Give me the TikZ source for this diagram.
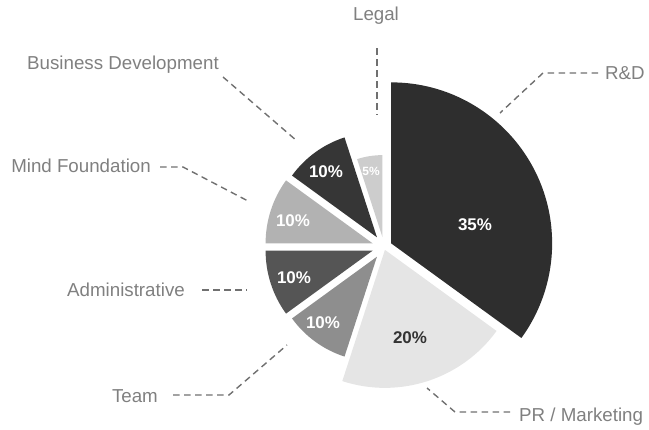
\documentclass[tikz,border=0pt]{standalone}
\usepackage{fontspec}
\setmainfont{Liberation Sans}
\definecolor{rdgray}{HTML}{2E2E2E}
\definecolor{prgray}{HTML}{E5E5E5}
\definecolor{tmgray}{HTML}{8E8E8E}
\definecolor{adgray}{HTML}{555555}
\definecolor{mfgray}{HTML}{B2B2B2}
\definecolor{bdgray}{HTML}{363636}
\definecolor{lggray}{HTML}{CDCDCD}
\definecolor{labelgray}{HTML}{808080}
\definecolor{leadgray}{HTML}{707070}
\definecolor{pctdark}{HTML}{333333}

\begin{document}
\begin{tikzpicture}[x=1bp,y=1bp,
  lbl/.style={text=labelgray,font=\fontsize{18.8}{21}\selectfont,inner sep=0pt},
  pct/.style={text=white,font=\bfseries\fontsize{17}{19}\selectfont,inner sep=0pt},
  leader/.style={draw=leadgray,line width=1.4bp,dash pattern=on 6.5bp off 4.5bp}]
\useasboundingbox (0,0) rectangle (649,429);
\coordinate (c) at (384,182);
\foreach \s/\e/\d/\r/\col in {90/-36/8/161/rdgray,-36/-108/3/138/prgray,-108/-144/12/105/tmgray,
  -144/-180/12/107/adgray,180/144/12/107/mfgray,144/108/12/105/bdgray,108/90/10/82/lggray}
  \fill[\col] (c) ++({(\s+\e)/2}:\d) -- ++(\s:\r) arc (\s:\e:\r) -- cycle;

\node[pct] (rdp) at (475,204) {35\%};
\node[pct,text=pctdark] (prp) at (410,91) {20\%};
\node[pct] (tmp) at (323,106) {10\%};
\node[pct] (adp) at (294,151) {10\%};
\node[pct] (mfp) at (293,208) {10\%};
\node[pct] (bdp) at (326,257) {10\%};
\node[pct,font=\bfseries\fontsize{12}{14}\selectfont] (lgp) at (371,258) {5\%};

\node[lbl,anchor=base] (legal) at (376,408) {Legal};
\node[lbl,anchor=base west] (bizdev) at (27,360) {Business Development};
\node[lbl,anchor=base east] (mind) at (151,257) {Mind Foundation};
\node[lbl,anchor=base east] (admin) at (185,133) {Administrative};
\node[lbl,anchor=base east] (team) at (158,27) {Team};
\node[lbl,anchor=base west] (prm) at (519,8) {PR / Marketing};
\node[lbl,anchor=base west] (rnd) at (605,350) {R\&D};

\coordinate (lg1) at (377,381);
\coordinate (lg2) at (377,314);
\coordinate (bd1) at (223,352);
\coordinate (bd2) at (297,288);
\coordinate (mf1) at (160,262);
\coordinate (mf2) at (183,262);
\coordinate (mf3) at (248,228);
\coordinate (ad1) at (202,139);
\coordinate (ad2) at (247,139);
\coordinate (tm1) at (173,34);
\coordinate (tm2) at (229,34);
\coordinate (tm3) at (287,84);
\coordinate (pr1) at (510,17);
\coordinate (pr2) at (455,17);
\coordinate (pr3) at (427,41);
\coordinate (rd1) at (598,356);
\coordinate (rd2) at (543,356);
\coordinate (rd3) at (500,316);
\draw[leader] (lg1) -- (lg2);
\draw[leader] (bd1) -- (bd2);
\draw[leader] (mf1) -- (mf2) -- (mf3);
\draw[leader] (ad1) -- (ad2);
\draw[leader] (tm1) -- (tm2) -- (tm3);
\draw[leader] (pr1) -- (pr2) -- (pr3);
\draw[leader] (rd1) -- (rd2) -- (rd3);
\end{tikzpicture}
\end{document}
